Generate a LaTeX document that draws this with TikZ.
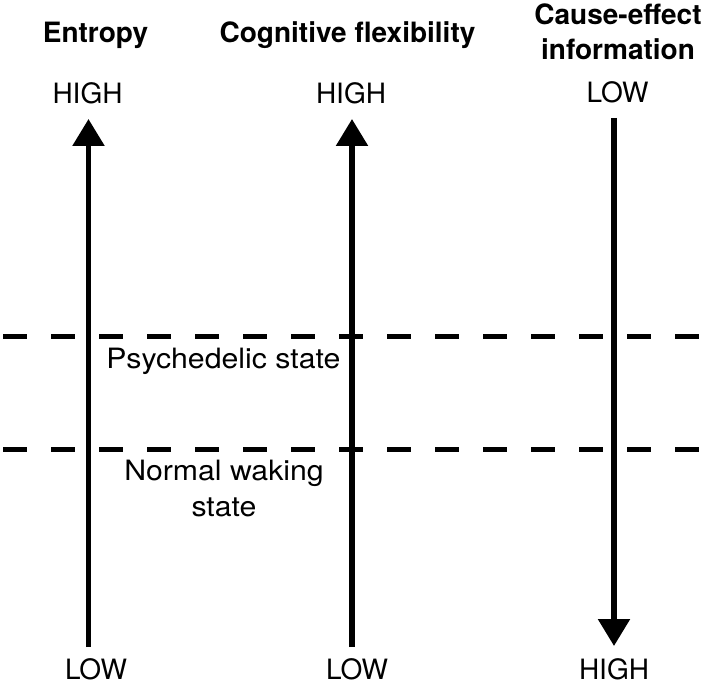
\documentclass[tikz,border=0pt]{standalone}
\usepackage{fontspec}
\setmainfont{TeX Gyre Heros}
\newfontfamily\bodyfont[FakeStretch=1.08]{TeX Gyre Heros}
\usetikzlibrary{arrows.meta}
\tikzset{
  head/.style={anchor=base, inner sep=0pt, font=\fontsize{28}{34}\selectfont\bfseries},
  lbl/.style={anchor=base, inner sep=0pt, font=\fontsize{28}{34}\selectfont},
  body/.style={anchor=base, inner sep=0pt, font=\fontsize{28}{34}\selectfont\bodyfont},
  axis/.style={line width=5.5pt, -{Triangle[width=31pt,length=27pt]}},
  divider/.style={line width=5pt, dash pattern=on 24pt off 24pt}
}
\begin{document}
\begin{tikzpicture}[x=1pt,y=-1pt]
\useasboundingbox[fill=white] (0,0) rectangle (708,684);
% headings
\node[head] (hE) at (95.5,42.7) {Entropy};
\node[head] (hC) at (347.5,43) {Cognitive flexibility};
\node[head] (hI1) at (618,25) {Cause-effect};
\node[head] (hI2) at (618,59.3) {information};
% top labels
\node[lbl] (tE) at (87.5,104) {HIGH};
\node[lbl] (tC) at (351,104) {HIGH};
\node[lbl] (tI) at (617.5,103) {LOW};
% bottom labels
\node[lbl] (bE) at (96,679.3) {LOW};
\node[lbl] (bC) at (357,679.3) {LOW};
\node[lbl] (bI) at (614,679.3) {HIGH};
% arrow ends
\coordinate (eB) at (88.5,647);
\coordinate (eT) at (88.5,119);
\coordinate (cB) at (352,647);
\coordinate (cT) at (352,119);
\coordinate (iT) at (614,118);
\coordinate (iB) at (614,646);
\draw[axis] (eB) -- (eT);
\draw[axis] (cB) -- (cT);
\draw[axis] (iT) -- (iB);
% dividers
\coordinate (d1L) at (3,336.5);
\coordinate (d1R) at (708,336.5);
\coordinate (d2L) at (3,449.3);
\coordinate (d2R) at (708,449.3);
\draw[divider] (d1L) -- (d1R);
\draw[divider] (d2L) -- (d2R);
% state labels
\node[body] (ps) at (223.3,368.3) {Psychedelic state};
\node[body] (nw1) at (224,480) {Normal waking};
\node[body] (nw2) at (224,516.5) {state};
\end{tikzpicture}
\end{document}
